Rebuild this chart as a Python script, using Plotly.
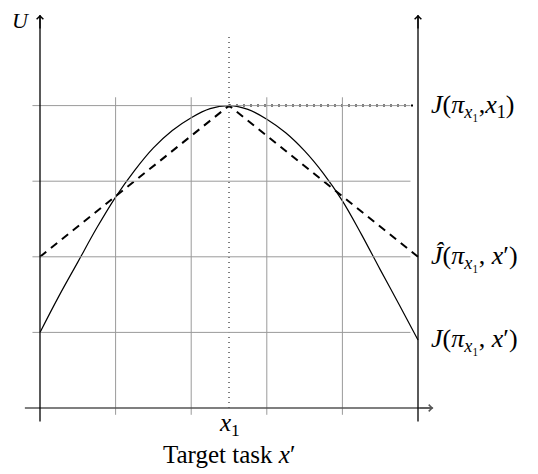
import plotly.graph_objects as go

# true performance U over target task x'
curve_x = [0, 0.25, 0.5, 0.75, 1, 1.25, 1.5, 1.75, 2, 2.25, 2.5,
           2.75, 3, 3.25, 3.5, 3.75, 4, 4.25, 4.5, 4.75, 5]
curve_y = [1.0, 1.48, 1.93, 2.38, 2.79, 3.14, 3.44, 3.67, 3.84, 3.96, 4.0,
           3.95, 3.82, 3.64, 3.40, 3.10, 2.74, 2.30, 1.83, 1.37, 0.9]

# estimated (lower bound) performance
approx_x = [0, 2.5, 5]
approx_y = [2, 4, 2]

x1 = 2.5
x_grid = [1, 2, 3, 4]
y_grid = [1, 2, 3, 4]

right_labels = [
    "<i>J</i>(<i>π</i><sub><i>x</i>₁</sub>,<i>x</i><sub>1</sub>)",
    "<i>Ĵ</i>(<i>π</i><sub><i>x</i>₁</sub>, <i>x</i>′)",
    "<i>J</i>(<i>π</i><sub><i>x</i>₁</sub>, <i>x</i>′)",
]
right_label_y = [4, 2, 0.9]

serif = "Liberation Serif"
unit = 75.6  # px per data unit
off = 8  # page body margin

fig = go.Figure()

# grid
for gx in x_grid:
    fig.add_shape(type="line", x0=gx, x1=gx, y0=-0.09, y1=4.11,
                  line=dict(color="#9a9a9a", width=1))
for gy in y_grid:
    fig.add_shape(type="line", x0=-0.1, x1=4.9, y0=gy, y1=gy,
                  line=dict(color="#9a9a9a", width=1))

# dotted guides
fig.add_trace(go.Scatter(x=[x1, x1], y=[0, 4.95], mode="lines",
                         line=dict(color="black", width=1, dash="1px,4px"),
                         hoverinfo="skip", showlegend=False))
fig.add_trace(go.Scatter(x=[x1, 5], y=[max(curve_y), max(curve_y)], mode="lines",
                         line=dict(color="black", width=2, dash="2px,5px"),
                         hoverinfo="skip", showlegend=False))

# curves
fig.add_trace(go.Scatter(x=curve_x, y=curve_y, mode="lines",
                         line=dict(color="black", width=1.2, shape="spline", smoothing=1),
                         showlegend=False))
fig.add_trace(go.Scatter(x=approx_x, y=approx_y, mode="lines",
                         line=dict(color="black", width=2, dash="8px,6px"),
                         showlegend=False))

# axes with arrows
fig.add_shape(type="line", x0=-0.2, x1=5.2, y0=0, y1=0,
              line=dict(color="#555555", width=1.3))
for ax_x in [0, 5]:
    fig.add_shape(type="line", x0=ax_x, x1=ax_x, y0=-0.18, y1=5.2,
                  line=dict(color="black", width=1.3))
    fig.add_annotation(x=ax_x, y=5.2, ax=ax_x, ay=5.0, xref="x", yref="y",
                       axref="x", ayref="y", text="", showarrow=True,
                       arrowhead=4, arrowsize=1, arrowwidth=1.3, arrowcolor="black")
fig.add_annotation(x=5.2, y=0, ax=5.0, ay=0, xref="x", yref="y",
                   axref="x", ayref="y", text="", showarrow=True,
                   arrowhead=4, arrowsize=1, arrowwidth=1.3, arrowcolor="#555555")

# labels
fig.add_annotation(x=-0.25, y=5.12, text="<i>U</i>", showarrow=False,
                   font=dict(family=serif, size=22, color="black"))
fig.add_annotation(x=x1, y=-0.22, text="<i>x</i><sub>1</sub>", showarrow=False,
                   font=dict(family=serif, size=25, color="black"))
fig.add_annotation(x=x1, y=-0.62, text="Target task <i>x</i>′", showarrow=False,
                   font=dict(family=serif, size=25, color="black"))
for txt, ly in zip(right_labels, right_label_y):
    fig.add_annotation(x=5.15, y=ly, text=txt, showarrow=False, xanchor="left",
                       font=dict(family=serif, size=26, color="black"))

# map data units onto the page: x=0 at 40px, y=0 at 408px
fig.update_xaxes(visible=False, range=[-(40 - off) / unit, (538 - 40 + off) / unit])
fig.update_yaxes(visible=False, range=[-(474 - 408 + off) / unit, (408 - off) / unit])
fig.update_layout(
    width=538,
    height=474,
    autosize=False,
    margin=dict(l=0, r=0, t=0, b=0),
    plot_bgcolor="white",
    paper_bgcolor="white",
)

fig.write_html("out.html")
